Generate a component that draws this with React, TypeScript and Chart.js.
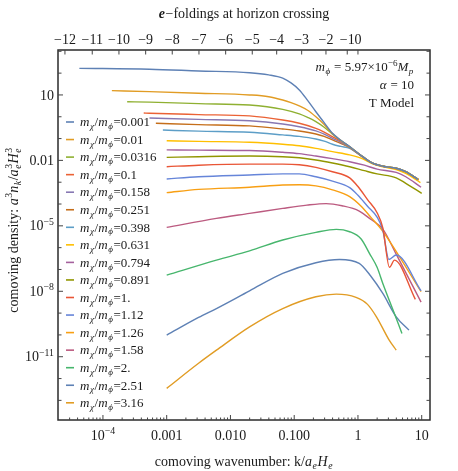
import { useEffect, useRef } from 'react';
import { Chart, registerables } from 'chart.js';

Chart.register(...registerables);

const FONT = '"Liberation Serif", "DejaVu Serif", serif';

// mass ratios m_chi / m_phi (legend)
const ratios = ['0.001', '0.01', '0.0316', '0.1', '0.158', '0.251', '0.398', '0.631', '0.794', '0.891', '1.', '1.12', '1.26', '1.58', '2.', '2.51', '3.16'];
const colors = ['#5E81B5', '#E19C24', '#8FB032', '#EB6235', '#8778B3', '#C56E1A', '#5D9EC7', '#FFBF00', '#A5609D', '#929600', '#E95536', '#6685D9', '#F89F13', '#BC5B80', '#47B66D', '#5E81B5', '#E19C24'];

// series: [log10 k/aeHe, log10 comoving density]
const s0_001 = [[-4.37, 2.22], [-3.27, 2.18], [-2.5, 2.1], [-1.7, 2.02], [-1.4, 1.92], [-1.18, 1.77], [-1.05, 1.55], [-0.92, 1.23], [-0.79, 0.75], [-0.66, 0.23], [-0.53, -0.27], [-0.4, -0.76], [-0.27, -1.08], [-0.13, -1.37], [0.075, -1.83], [0.23, -2.13], [0.4, -2.27], [0.6, -2.36], [0.75, -2.52], [0.94, -2.87]];
const s0_01 = [[-3.86, 1.2], [-3.27, 1.15], [-2.5, 1.08], [-1.7, 1.0], [-1.4, 0.92], [-1.18, 0.77], [-1.05, 0.65], [-0.92, 0.5], [-0.79, 0.3], [-0.66, 0.0], [-0.53, -0.35], [-0.4, -0.77], [-0.27, -1.08], [-0.13, -1.37], [0.075, -1.83], [0.23, -2.13], [0.4, -2.27], [0.6, -2.36], [0.75, -2.52], [0.95, -2.88]];
const s0_0316 = [[-3.62, 0.69], [-3.27, 0.67], [-2.5, 0.6], [-1.7, 0.54], [-1.18, 0.34], [-0.92, 0.13], [-0.79, -0.03], [-0.66, -0.22], [-0.53, -0.48], [-0.4, -0.8], [-0.27, -1.09], [-0.13, -1.38], [0.075, -1.83], [0.23, -2.13], [0.4, -2.27], [0.6, -2.36], [0.75, -2.52], [0.95, -2.88]];
const s0_1 = [[-3.36, 0.17], [-3.27, 0.16], [-2.5, 0.1], [-1.7, 0.04], [-1.18, -0.15], [-0.92, -0.3], [-0.66, -0.53], [-0.53, -0.7], [-0.4, -0.91], [-0.27, -1.12], [-0.13, -1.39], [0.075, -1.84], [0.23, -2.13], [0.4, -2.27], [0.6, -2.36], [0.75, -2.52], [0.95, -2.88]];
const s0_158 = [[-3.27, -0.06], [-2.5, -0.12], [-1.7, -0.18], [-1.18, -0.33], [-0.92, -0.46], [-0.66, -0.65], [-0.53, -0.8], [-0.4, -0.99], [-0.27, -1.17], [-0.13, -1.4], [0.075, -1.84], [0.23, -2.14], [0.4, -2.28], [0.6, -2.37], [0.75, -2.53], [0.95, -2.89]];
const s0_251 = [[-3.17, -0.3], [-2.5, -0.36], [-1.7, -0.42], [-1.18, -0.56], [-0.92, -0.65], [-0.66, -0.79], [-0.53, -0.9], [-0.4, -1.06], [-0.27, -1.22], [-0.13, -1.41], [0.075, -1.84], [0.23, -2.14], [0.4, -2.28], [0.6, -2.37], [0.75, -2.53], [0.95, -2.89]];
const s0_398 = [[-3.06, -0.61], [-2.5, -0.66], [-1.7, -0.71], [-1.18, -0.83], [-0.92, -0.9], [-0.66, -1.02], [-0.53, -1.12], [-0.4, -1.26], [-0.27, -1.36], [-0.13, -1.45], [0.075, -1.85], [0.23, -2.13], [0.4, -2.27], [0.6, -2.36], [0.75, -2.52], [0.94, -2.87]];
const s0_631 = [[-3.0, -1.1], [-2.5, -1.13], [-1.7, -1.17], [-1.18, -1.26], [-0.92, -1.33], [-0.66, -1.45], [-0.4, -1.6], [-0.13, -1.75], [0.075, -1.93], [0.23, -2.16], [0.4, -2.3], [0.6, -2.42], [0.75, -2.6], [0.98, -3.02]];
const s0_794 = [[-3.0, -1.52], [-2.5, -1.53], [-1.7, -1.55], [-1.18, -1.63], [-0.92, -1.69], [-0.66, -1.8], [-0.4, -1.92], [-0.13, -2.06], [0.1, -2.22], [0.3, -2.4], [0.6, -2.55], [0.75, -2.75], [0.99, -3.23]];
const s0_891 = [[-3.0, -1.86], [-2.5, -1.83], [-1.7, -1.8], [-1.18, -1.83], [-0.92, -1.88], [-0.66, -1.98], [-0.4, -2.12], [-0.13, -2.29], [0.1, -2.47], [0.3, -2.62], [0.6, -2.8], [0.75, -3.05], [1.0, -3.51]];
const s1_00 = [[-3.0, -2.29], [-2.5, -2.22], [-1.7, -2.17], [-1.18, -2.17], [-0.92, -2.2], [-0.66, -2.32], [-0.4, -2.52], [-0.13, -2.8], [0.0, -3.2], [0.15, -3.8], [0.3, -4.4], [0.39, -5.1], [0.494, -6.9], [0.573, -6.57], [0.9, -8.37]];
const s1_12 = [[-3.0, -2.85], [-2.5, -2.75], [-1.7, -2.67], [-1.18, -2.62], [-0.92, -2.62], [-0.66, -2.75], [-0.4, -2.95], [-0.13, -3.25], [0.0, -3.6], [0.15, -4.1], [0.3, -4.6], [0.39, -5.2], [0.485, -6.54], [0.6, -6.34], [0.99, -7.98]];
const s1_26 = [[-3.0, -3.48], [-2.5, -3.33], [-1.7, -3.23], [-1.18, -3.13], [-0.92, -3.12], [-0.66, -3.17], [-0.4, -3.35], [-0.13, -3.66], [0.05, -4.1], [0.2, -4.6], [0.39, -5.25], [0.99, -8.02]];
const s1_58 = [[-3.0, -5.07], [-2.22, -4.66], [-1.7, -4.43], [-1.18, -4.2], [-0.8, -4.05], [-0.5, -3.98], [-0.25, -4.08], [0.02, -4.32], [0.2, -4.7], [0.39, -5.15], [0.6, -6.3], [0.99, -8.5]];
const s2_00 = [[-3.0, -7.26], [-2.22, -6.57], [-1.7, -6.15], [-1.18, -5.65], [-0.66, -5.3], [-0.34, -5.16], [-0.13, -5.27], [0.05, -5.6], [0.18, -6.26], [0.3, -6.9], [0.39, -7.64], [0.55, -8.86], [0.69, -9.93]];
const s2_51 = [[-3.0, -10.01], [-2.5, -9.2], [-2.22, -8.79], [-1.7, -7.98], [-1.18, -7.18], [-0.66, -6.69], [-0.29, -6.54], [0.02, -6.72], [0.2, -7.3], [0.39, -8.1], [0.6, -9.17], [0.8, -9.78]];
const s3_16 = [[-3.0, -12.45], [-2.5, -11.3], [-2.22, -10.7], [-1.7, -9.63], [-1.18, -8.79], [-0.66, -8.25], [-0.34, -8.13], [-0.03, -8.28], [0.15, -8.6], [0.29, -9.17], [0.49, -10.24], [0.6, -10.7]];

const series = [s0_001, s0_01, s0_0316, s0_1, s0_158, s0_251, s0_398, s0_631, s0_794, s0_891, s1_00, s1_12, s1_26, s1_58, s2_00, s2_51, s3_16];

// axis ranges (log10)
const xLogRange = [-4.705, 1.13];
const yLogRange = [-13.9, 3.06];

// bottom tick labels
const xLabelExps = [-4, -3, -2, -1, 0, 1];
const xLabelText = ['10^-4', '0.001', '0.010', '0.100', '1', '10'];
// left tick labels
const yLabelExps = [1, -2, -5, -8, -11];
const yLabelText = ['10', '0.01', '10^-5', '10^-8', '10^-11'];
// top axis: e-foldings at horizon crossing and their log10 k positions
const topTickN = [-12, -11, -10, -9, -8, -7, -6, -5, -4, -3, -2, -1, 0];
const topTickLogK = [-4.596, -4.168, -3.749, -3.33, -2.913, -2.494, -2.075, -1.658, -1.275, -0.883, -0.502, -0.168, 0];

type Seg = { t?: string; it?: boolean; b?: boolean; sup?: boolean; sub?: boolean; st?: [string, string] };

function fnt(size: number, it?: boolean, b?: boolean) {
  return `${it ? 'italic ' : ''}${b ? 'bold ' : ''}${size}px ${FONT}`;
}

function drawRich(ctx: CanvasRenderingContext2D, segs: Seg[], x: number, y: number, size: number, align: 'left' | 'center' | 'right', color = '#1a1a1a') {
  const small = size * 0.7;
  const widths = segs.map((s) => {
    if (s.st) {
      ctx.font = fnt(small, true);
      return Math.max(ctx.measureText(s.st[0]).width, ctx.measureText(s.st[1]).width) + 0.5;
    }
    ctx.font = fnt(s.sup || s.sub ? small : size, s.it, s.b);
    return ctx.measureText(s.t || '').width + (s.it ? 0.6 : 0);
  });
  const total = widths.reduce((a, b) => a + b, 0);
  let cx = align === 'left' ? x : align === 'center' ? x - total / 2 : x - total;
  const base = y + size * 0.33;
  ctx.fillStyle = color;
  ctx.textAlign = 'left';
  ctx.textBaseline = 'alphabetic';
  segs.forEach((s, i) => {
    if (s.st) {
      ctx.font = fnt(small, true);
      ctx.fillText(s.st[0], cx, base + size * 0.22);
      ctx.font = fnt(small, false);
      ctx.fillText(s.st[1], cx, base - size * 0.4);
    } else {
      ctx.font = fnt(s.sup || s.sub ? small : size, s.it, s.b);
      const dy = s.sup ? -size * 0.4 : s.sub ? size * 0.22 : 0;
      ctx.fillText(s.t || '', cx, base + dy);
    }
    cx += widths[i];
  });
}

function labelSegs(txt: string): Seg[] {
  if (txt.includes('^')) {
    const [b, e] = txt.split('^');
    return [{ t: b }, { t: e.replace('-', '\u2212'), sup: true }];
  }
  return [{ t: txt }];
}

const decorPlugin = {
  id: 'decor',
  afterDraw(chart: any) {
    const ctx: CanvasRenderingContext2D = chart.ctx;
    const { left, right, top, bottom } = chart.chartArea;
    const xs = chart.scales.x;
    const ys = chart.scales.y;
    const xt = chart.scales.x2;
    ctx.save();
    // frame
    ctx.strokeStyle = '#2b2b2b';
    ctx.lineWidth = 1.5;
    ctx.strokeRect(left, top, right - left, bottom - top);
    ctx.lineWidth = 1;
    ctx.strokeStyle = '#444';
    // bottom ticks (decades + minor)
    ctx.beginPath();
    for (let d = Math.floor(xLogRange[0]); d <= Math.ceil(xLogRange[1]); d++) {
      for (let m = 1; m <= 9; m++) {
        const v = m * Math.pow(10, d);
        const px = xs.getPixelForValue(v);
        if (px < left + 1 || px > right - 1) continue;
        const len = m === 1 ? 5 : 2.5;
        ctx.moveTo(px, bottom);
        ctx.lineTo(px, bottom - len);
      }
    }
    // top ticks
    topTickLogK.forEach((lk) => {
      const px = xt.getPixelForValue(Math.pow(10, lk));
      ctx.moveTo(px, top);
      ctx.lineTo(px, top + 4.5);
    });
    // left/right ticks each decade
    for (let d = Math.ceil(yLogRange[0]); d <= Math.floor(yLogRange[1]); d++) {
      const py = ys.getPixelForValue(Math.pow(10, d));
      const len = yLabelExps.includes(d) ? 5 : 3.5;
      ctx.moveTo(left, py);
      ctx.lineTo(left + len, py);
      ctx.moveTo(right, py);
      ctx.lineTo(right - len, py);
    }
    ctx.stroke();

    // tick labels
    xLabelExps.forEach((e, i) => {
      const px = xs.getPixelForValue(Math.pow(10, e));
      drawRich(ctx, labelSegs(xLabelText[i]), px, bottom + 15, 14, 'center');
    });
    yLabelExps.forEach((e, i) => {
      const py = ys.getPixelForValue(Math.pow(10, e));
      drawRich(ctx, labelSegs(yLabelText[i]), left - 4, py, 14, 'right');
    });
    topTickN.forEach((n, i) => {
      const px = xt.getPixelForValue(Math.pow(10, topTickLogK[i]));
      const txt = n < 0 ? '\u2212' + Math.abs(n) : String(n);
      drawRich(ctx, [{ t: txt }], px, top - 11, 14, 'center');
    });

    // axis titles
    drawRich(ctx, [{ t: 'e', it: true, b: true }, { t: '\u2212foldings at horizon crossing' }], (left + right) / 2, 13, 14, 'center');
    drawRich(ctx, [{ t: 'comoving wavenumber: k/' }, { t: 'a', it: true }, { t: 'e', it: true, sub: true }, { t: 'H', it: true }, { t: 'e', it: true, sub: true }], (left + right) / 2, 461, 14, 'center');
    ctx.save();
    ctx.translate(13, (top + bottom) / 2 - 5);
    ctx.rotate(-Math.PI / 2);
    drawRich(ctx, [{ t: 'comoving density: ' }, { t: 'a', it: true }, { t: '3', sup: true }, { t: 'n', it: true }, { t: 'k', it: true, sub: true }, { t: '/' }, { t: 'a', it: true }, { st: ['e', '3'] }, { t: 'H', it: true }, { st: ['e', '3'] }], 0, 0, 14, 'center');
    ctx.restore();

    // annotations
    drawRich(ctx, [{ t: 'm', it: true }, { t: '\u03D5', it: true, sub: true }, { t: ' = 5.97\u00D710' }, { t: '\u22126', sup: true }, { t: 'M', it: true }, { t: 'p', it: true, sub: true }], 414, 67, 13, 'right');
    drawRich(ctx, [{ t: '\u03B1', it: true }, { t: ' = 10' }], 414, 85, 13, 'right');
    drawRich(ctx, [{ t: 'T Model' }], 414, 103, 13, 'right');

    // legend
    ratios.forEach((r, i) => {
      const y = 122 + i * 17.55;
      ctx.strokeStyle = colors[i];
      ctx.lineWidth = 1.6;
      ctx.beginPath();
      ctx.moveTo(66, y);
      ctx.lineTo(74, y);
      ctx.stroke();
      drawRich(ctx, [{ t: 'm', it: true }, { t: '\u03C7', it: true, sub: true }, { t: '/' }, { t: 'm', it: true }, { t: '\u03D5', it: true, sub: true }, { t: '=' + r }], 80, y, 13, 'left');
    });
    ctx.restore();
  },
};

export default function App() {
  const ref = useRef<HTMLCanvasElement>(null);
  useEffect(() => {
    const datasets = series.map((s, i) => ({
      label: 'm\u03C7/m\u03D5=' + ratios[i],
      data: s.map(([lk, ln]) => ({ x: Math.pow(10, lk), y: Math.pow(10, ln) })),
      borderColor: colors[i],
      backgroundColor: colors[i],
      borderWidth: 1.4,
      pointRadius: 0,
      fill: false,
      cubicInterpolationMode: 'monotone' as const,
    }));
    const hidden = { display: false };
    const chart = new Chart(ref.current!, {
      type: 'line',
      data: { datasets },
      options: {
        animation: false,
        responsive: false,
        devicePixelRatio: 1,
        layout: { padding: { left: 0, top: 0, right: 28, bottom: 0 } },
        plugins: { legend: { display: false }, tooltip: { enabled: false } },
        scales: {
          x: {
            type: 'logarithmic', position: 'bottom',
            min: Math.pow(10, xLogRange[0]), max: Math.pow(10, xLogRange[1]),
            ticks: hidden, grid: hidden, border: hidden,
            afterFit: (s: any) => { s.height = 51; },
          },
          x2: {
            type: 'logarithmic', position: 'top', axis: 'x',
            min: Math.pow(10, xLogRange[0]), max: Math.pow(10, xLogRange[1]),
            ticks: hidden, grid: hidden, border: hidden,
            afterFit: (s: any) => { s.height = 50; },
          },
          y: {
            type: 'logarithmic', position: 'left',
            min: Math.pow(10, yLogRange[0]), max: Math.pow(10, yLogRange[1]),
            ticks: hidden, grid: hidden, border: hidden,
            afterFit: (s: any) => { s.width = 58; },
          },
        },
      } as any,
      plugins: [decorPlugin],
    });
    return () => chart.destroy();
  }, []);
  return (
    <div style={{ position: 'absolute', left: 0, top: 0, width: 458, height: 471, background: '#fff' }}>
      <canvas ref={ref} width={458} height={471} style={{ width: 458, height: 471, display: 'block' }} />
    </div>
  );
}
